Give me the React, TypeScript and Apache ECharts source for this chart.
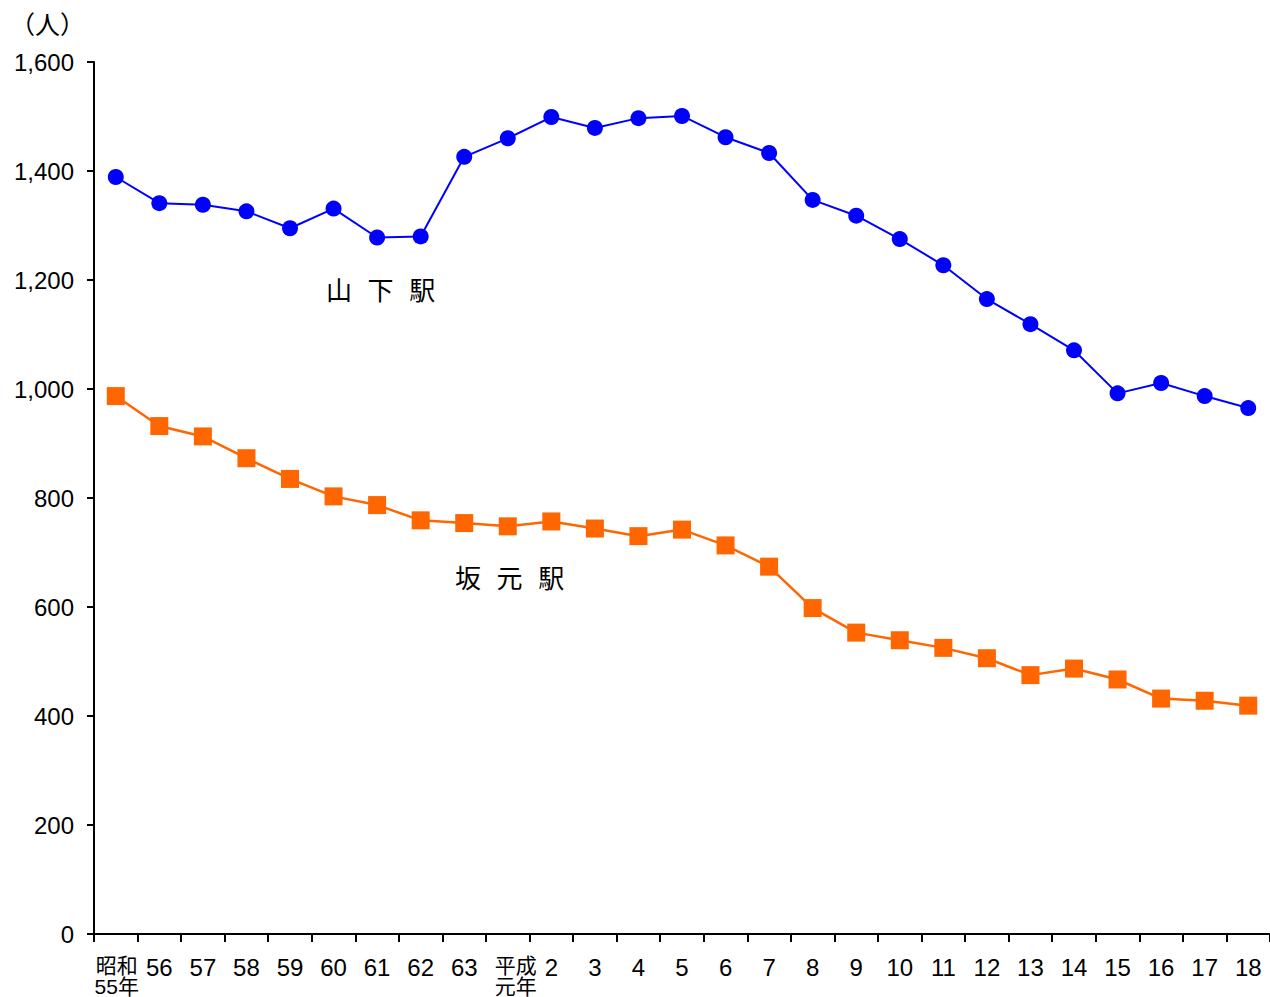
import React, { useEffect, useRef } from "react";
import * as echarts from "echarts";

const categories = [
  "昭和\n55年", "56", "57", "58", "59", "60", "61", "62", "63",
  "平成\n元年", "2", "3", "4", "5", "6", "7", "8", "9", "10",
  "11", "12", "13", "14", "15", "16", "17", "18",
];

const yamashita = [
  1389, 1341, 1338, 1326, 1295, 1331, 1278, 1280, 1426,
  1460, 1499, 1479, 1497, 1501, 1462, 1433, 1347, 1318, 1275,
  1227, 1165, 1119, 1071, 992, 1011, 987, 965,
];

const sakamoto = [
  987, 932, 913, 873, 835, 803, 787, 759, 754,
  748, 757, 744, 730, 742, 713, 674, 598, 553, 539,
  525, 506, 475, 487, 467, 432, 428, 419,
];

const FONT = "'Liberation Sans', Arial, 'Noto Sans CJK JP', sans-serif";
const CJK = "'Noto Sans CJK JP', 'Liberation Sans', sans-serif";
const SPACED = "'Liberation Mono', 'Noto Sans CJK JP', sans-serif";

export default function App() {
  const ref = useRef<HTMLDivElement>(null);
  useEffect(() => {
    if (!ref.current) return;
    const chart = echarts.init(ref.current, null, { renderer: "svg" });
    chart.setOption({
      animation: false,
      backgroundColor: "#fff",
      grid: { left: 94, top: 62, width: 1179, height: 872 },
      xAxis: {
        type: "category",
        data: categories.map((c, i) =>
          c.includes("\n")
            ? {
                value: c,
                textStyle: {
                  fontSize: 21,
                  lineHeight: 21,
                  padding: i === 9 ? [0, 0, 0, 16] : [0, 0, 0, 2],
                },
              }
            : c
        ),
        boundaryGap: true,
        axisLine: { lineStyle: { color: "#000", width: 2 } },
        axisTick: { show: true, length: 8, interval: 0, lineStyle: { color: "#000", width: 2 } },
        axisLabel: {
          interval: 0,
          margin: 21,
          color: "#000",
          fontSize: 24,
          lineHeight: 24,
          fontFamily: FONT,
        },
        splitLine: { show: false },
      },
      yAxis: {
        type: "value",
        min: 0,
        max: 1600,
        interval: 200,
        axisLine: { show: true, lineStyle: { color: "#000", width: 2 } },
        axisTick: { show: true, length: 7, lineStyle: { color: "#000", width: 2 } },
        axisLabel: {
          margin: 20,
          color: "#000",
          fontSize: 24,
          fontFamily: FONT,
          formatter: (v: number) => v.toLocaleString("en-US"),
        },
        splitLine: { show: false },
      },
      graphic: [
        {
          type: "text",
          style: { x: 10, y: 23, text: "（人）", fontSize: 25, fontFamily: CJK, fill: "#000", verticalAlign: "middle" },
        },
        {
          type: "text",
          style: { x: 326, y: 293, text: "山 下 駅", fontSize: 26, fontFamily: SPACED, fill: "#000", verticalAlign: "middle" },
        },
        {
          type: "text",
          style: { x: 455, y: 581, text: "坂 元 駅", fontSize: 26, fontFamily: SPACED, fill: "#000", verticalAlign: "middle" },
        },
      ],
      series: [
        {
          name: "山下駅",
          type: "line",
          data: yamashita,
          symbol: "circle",
          symbolSize: 16,
          lineStyle: { color: "#0000FF", width: 2 },
          itemStyle: { color: "#0000FF" },
        },
        {
          name: "坂元駅",
          type: "line",
          data: sakamoto,
          symbol: "rect",
          symbolSize: 18,
          lineStyle: { color: "#FF6600", width: 2.5 },
          itemStyle: { color: "#FF6600" },
        },
      ],
    });
    return () => chart.dispose();
  }, []);
  return (
    <div
      ref={ref}
      style={{ position: "absolute", left: 0, top: 0, width: 1270, height: 997 }}
    />
  );
}
